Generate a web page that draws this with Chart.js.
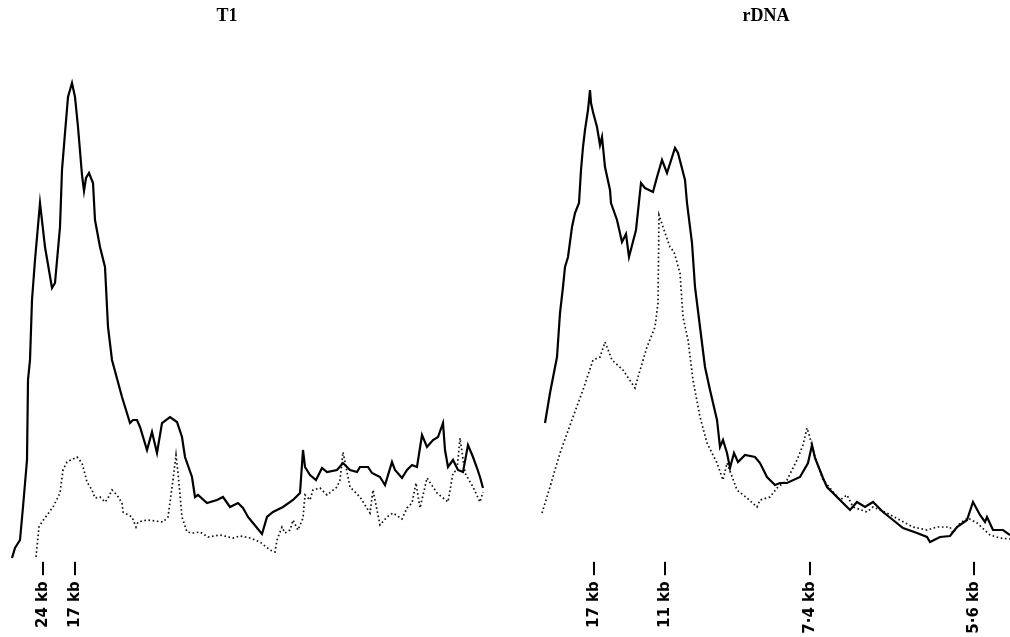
<!DOCTYPE html>
<html lang="en">
<head>
    <meta charset="UTF-8">
    <title>T1 / rDNA densitometer scans</title>
    <script src="https://cdn.jsdelivr.net/npm/chart.js"></script>
    <style>
        html, body { margin: 0; padding: 0; background: #fff; overflow: hidden; }
        .panel { position: absolute; top: 0; height: 637px; }
        #t1Panel { left: -31px; width: 516px; }
        #rdnaPanel { left: 522px; width: 488px; }
    </style>
</head>
<body>
    <div class="panel" id="t1Panel"><canvas id="t1Chart"></canvas></div>
    <div class="panel" id="rdnaPanel"><canvas id="rdnaChart"></canvas></div>

    <script>
        // T1 scan: solid trace
        const t1SolidX = [12, 15, 20, 23, 27, 28, 30, 32, 35, 40, 45, 52, 55, 60, 62, 65, 68, 72, 75, 78,
            82, 84, 86, 89, 93, 95, 100, 105, 108, 112, 122, 130, 133, 137, 140, 147, 152, 157, 162, 170,
            177, 182, 185, 192, 195, 198, 207, 217, 223, 230, 238, 243, 248, 253, 262, 267, 273, 283, 293, 300,
            303, 305, 310, 316, 322, 327, 337, 343, 350, 357, 360, 368, 372, 380, 385, 392, 395, 402, 407, 412,
            417, 422, 427, 433, 438, 443, 445, 448, 453, 458, 463, 468, 473, 477, 480, 483];
        const t1SolidY = [2, 12, 20, 53, 100, 180, 200, 260, 300, 357, 313, 272, 277, 333, 390, 427, 463, 477, 463, 433,
            385, 369, 382, 387, 377, 340, 313, 293, 233, 200, 163, 137, 140, 140, 133, 110, 128, 107, 137, 143,
            138, 123, 103, 83, 63, 65, 57, 60, 63, 53, 57, 52, 43, 37, 26, 43, 48, 53, 60, 67,
            110, 93, 85, 80, 92, 88, 90, 97, 90, 88, 93, 93, 87, 83, 75, 98, 90, 82, 90, 95,
            93, 125, 113, 120, 123, 137, 110, 93, 100, 90, 88, 115, 103, 92, 83, 72];

        // T1 scan: dotted trace
        const t1DotX = [36, 37, 39, 42, 53, 60, 63, 67, 77, 82, 87, 92, 95, 100, 105, 108, 112, 117, 122, 123,
            132, 136, 138, 147, 163, 168, 173, 176, 178, 182, 187, 193, 200, 208, 220, 233, 240, 250, 260, 270,
            275, 277, 282, 285, 290, 293, 298, 303, 305, 310, 313, 320, 327, 337, 340, 343, 350, 360, 370, 373,
            380, 387, 393, 402, 407, 412, 416, 420, 427, 437, 448, 453, 457, 460, 465, 473, 480, 483];
        const t1DotY = [3, 13, 33, 38, 53, 67, 90, 98, 103, 97, 78, 70, 62, 63, 58, 62, 70, 65, 57, 48,
            43, 33, 38, 40, 38, 43, 80, 105, 87, 43, 28, 27, 28, 23, 25, 22, 24, 22, 18, 10,
            8, 20, 33, 27, 30, 40, 30, 42, 65, 60, 70, 72, 65, 73, 80, 108, 73, 63, 47, 70,
            35, 43, 47, 41, 52, 57, 77, 52, 82, 67, 58, 87, 90, 122, 87, 73, 58, 68];

        // rDNA scan: solid trace
        const rdnaSolidX = [545, 550, 557, 560, 563, 565, 568, 572, 575, 579, 581, 583, 585, 588, 590, 591, 593, 597, 600, 602,
            605, 610, 611, 617, 622, 626, 629, 636, 641, 645, 653, 657, 662, 667, 675, 678, 685, 687, 692, 695,
            700, 705, 710, 717, 720, 723, 727, 730, 734, 738, 745, 755, 760, 767, 775, 780, 787, 800, 808, 812,
            815, 823, 827, 837, 843, 850, 857, 865, 873, 883, 893, 903, 917, 927, 930, 940, 950, 957, 967, 973,
            980, 985, 987, 993, 1003, 1010];
        const rdnaSolidY = [137, 167, 203, 247, 273, 293, 303, 333, 347, 357, 390, 413, 430, 450, 470, 457, 448, 433, 415, 423,
            393, 370, 357, 340, 318, 326, 303, 330, 377, 372, 368, 383, 400, 387, 412, 407, 380, 357, 317, 273,
            233, 193, 170, 140, 113, 120, 107, 92, 107, 98, 105, 103, 97, 83, 75, 77, 77, 83, 97, 115,
            102, 82, 73, 63, 57, 50, 58, 53, 58, 48, 40, 32, 27, 23, 18, 23, 24, 33, 40, 58,
            45, 38, 43, 30, 30, 25];

        // rDNA scan: dotted trace
        const rdnaDotX = [542, 550, 560, 573, 583, 593, 600, 605, 612, 623, 635, 638, 647, 655, 658, 659, 663, 670, 674, 680,
            683, 688, 693, 700, 707, 717, 723, 727, 737, 747, 757, 760, 770, 777, 787, 797, 803, 807, 810, 815,
            823, 830, 840, 847, 853, 867, 873, 887, 900, 913, 927, 937, 950, 953, 960, 968, 977, 990, 1000, 1010];
        const rdnaDotY = [47, 73, 107, 143, 170, 200, 203, 218, 200, 190, 172, 183, 213, 233, 257, 345, 333, 313, 308, 287,
            243, 220, 180, 143, 117, 97, 80, 97, 70, 62, 53, 60, 63, 72, 80, 100, 115, 132, 122, 103,
            80, 72, 60, 65, 53, 48, 53, 47, 40, 33, 30, 33, 33, 27, 37, 42, 37, 25, 22, 21];

        // size markers under each scan
        const t1MarkerPos = [43, 75];
        const t1MarkerLabels = ['24 kb —', '17 kb —'];
        const rdnaMarkerPos = [594, 665, 810, 974];
        const rdnaMarkerLabels = ['17 kb —', '11 kb —', '7·4 kb —', '5·6 kb —'];

        function toPoints(xs, ys) {
            return xs.map((x, i) => ({ x: x, y: ys[i] }));
        }

        function makeScan(canvasId, title, xMin, xMax, solid, dotted, markerPos, markerLabels) {
            const ctx = document.getElementById(canvasId).getContext('2d');
            return new Chart(ctx, {
                type: 'line',
                data: {
                    datasets: [{
                        label: 'solid',
                        data: solid,
                        borderColor: '#000',
                        borderWidth: 2.2,
                        pointRadius: 0,
                        tension: 0
                    }, {
                        label: 'dotted',
                        data: dotted,
                        borderColor: '#111',
                        borderWidth: 1.7,
                        borderDash: [1.6, 2.6],
                        pointRadius: 0,
                        tension: 0
                    }]
                },
                options: {
                    responsive: true,
                    maintainAspectRatio: false,
                    animation: false,
                    layout: { padding: 0 },
                    plugins: {
                        legend: { display: false },
                        tooltip: { enabled: false },
                        title: {
                            display: true,
                            text: title,
                            color: '#000',
                            font: { family: '"Liberation Serif", serif', size: 18, weight: 'bold' },
                            padding: { top: 6, bottom: 12.4 }
                        }
                    },
                    scales: {
                        x: {
                            type: 'linear',
                            min: xMin,
                            max: xMax,
                            grid: { display: false, drawTicks: false },
                            border: { display: false },
                            afterBuildTicks: (scale) => {
                                scale.ticks = markerPos.map(v => ({ value: v }));
                            },
                            afterFit: (scale) => { scale.height = 77; },
                            ticks: {
                                autoSkip: false,
                                minRotation: 90,
                                maxRotation: 90,
                                padding: 1,
                                color: '#000',
                                font: { family: '"DejaVu Sans", sans-serif', size: 15, weight: 'bold' },
                                callback: (value) => markerLabels[markerPos.indexOf(value)]
                            }
                        },
                        y: {
                            display: false,
                            min: 0,
                            max: 520
                        }
                    }
                }
            });
        }

        makeScan('t1Chart', 'T1', -31, 485,
            toPoints(t1SolidX, t1SolidY), toPoints(t1DotX, t1DotY), t1MarkerPos, t1MarkerLabels);
        makeScan('rdnaChart', 'rDNA', 522, 1010,
            toPoints(rdnaSolidX, rdnaSolidY), toPoints(rdnaDotX, rdnaDotY), rdnaMarkerPos, rdnaMarkerLabels);
    </script>
</body>
</html>
